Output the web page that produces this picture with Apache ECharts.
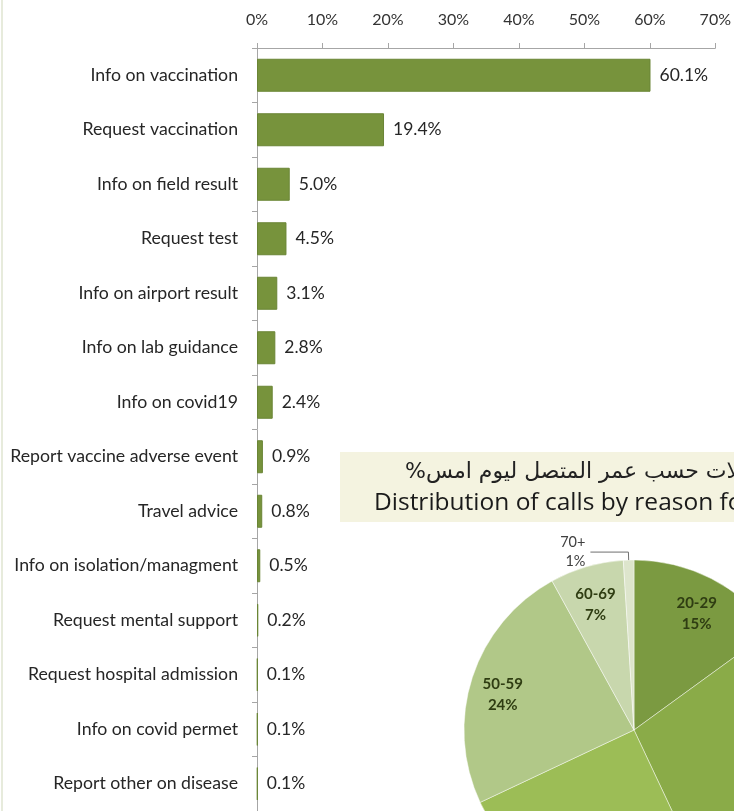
<!DOCTYPE html>
<html>
<head>
<meta charset="utf-8">
<script src="https://cdn.jsdelivr.net/npm/echarts@6/dist/echarts.min.js"></script>
<style>
    html, body {margin: 0; padding: 0; background: #ffffff;}
    #main {width: 734px; height: 811px;}
</style>
</head>
<body>
<div id="main"></div>
<script>
// calls by reason (bar chart)
var reasons = ['Info on vaccination', 'Request vaccination', 'Info on field result', 'Request test',
    'Info on airport result', 'Info on lab guidance', 'Info on covid19', 'Report vaccine adverse event',
    'Travel advice', 'Info on isolation/managment', 'Request mental support', 'Request hospital admission',
    'Info on covid permet', 'Report other on disease'];
var reasonPct = [60.1, 19.4, 5.0, 4.5, 3.1, 2.8, 2.4, 0.9, 0.8, 0.5, 0.2, 0.1, 0.1, 0.1];

// calls by caller age (pie, partly cut off)
var ageGroups = ['20-29', '30-39', '40-49', '50-59', '60-69', '70+'];
var agePct = [15, 28, 25, 24, 7, 1];
var ageColors = ['#7b9a41', '#8aab48', '#9cbd56', '#b1c888', '#c8d7ad', '#dde5cc'];

var titleAr = '%توزيع الاتصالات حسب عمر المتصل ليوم امس';
var titleEn = 'Distribution of calls by reason for call';

var chart = echarts.init(document.getElementById('main'));

var pieData = [];
var labelData = [];
for (var i = 0; i < ageGroups.length; i++) {
    pieData.push({name: ageGroups[i], value: agePct[i], itemStyle: {color: ageColors[i]}});
    var item = {name: ageGroups[i], value: agePct[i]};
    if (ageGroups[i] === '70+') {
        item.label = {position: 'outside', color: '#404040', fontWeight: 'normal', fontSize: 14.5, lineHeight: 19};
        item.labelLine = {show: true, length: 8, length2: 38, lineStyle: {color: '#6f6f6f', width: 1}};
    }
    labelData.push(item);
}

var font = 'Lato';

chart.setOption({
    backgroundColor: '#ffffff',
    animation: false,
    graphic: [{
        type: 'rect',
        z: 0,
        shape: {x: 1, y: 0, width: 2, height: 811},
        style: {fill: '#e7ebdc'}
    }, {
        type: 'rect',
        z: 0,
        shape: {x: 340, y: 452, width: 420, height: 70},
        style: {fill: '#f4f3e0'}
    }, {
        type: 'text',
        z: 5,
        left: 405, top: 461,
        style: {text: titleAr, font: '22px "DejaVu Sans"', fill: '#222'}
    }, {
        type: 'text',
        z: 5,
        left: 374, top: 491,
        style: {text: titleEn, font: '24.5px "Open Sans"', fill: '#1a1a1a'}
    }],
    grid: {left: 257, top: 48, width: 461, height: 776, containLabel: false},
    xAxis: {
        type: 'value',
        position: 'top',
        min: 0, max: 70, interval: 10,
        axisLine: {show: true, lineStyle: {color: '#a6a6a6'}},
        axisTick: {show: true, length: 5, lineStyle: {color: '#a6a6a6'}},
        splitLine: {show: false},
        axisLabel: {formatter: '{value}%', color: '#333', fontSize: 16, fontFamily: font, margin: 20}
    },
    yAxis: {
        type: 'category',
        inverse: true,
        data: reasons,
        axisLine: {show: true, lineStyle: {color: '#a6a6a6'}},
        axisTick: {show: true, length: 5, lineStyle: {color: '#a6a6a6'}},
        axisLabel: {color: '#262626', fontSize: 17.7, fontFamily: font, margin: 19}
    },
    series: [{
        type: 'bar',
        data: reasonPct,
        barWidth: 33,
        itemStyle: {color: '#77933c', borderColor: '#6a8535', borderWidth: 1},
        label: {
            show: true, position: 'right', distance: 9,
            color: '#262626', fontSize: 17.5, fontFamily: font,
            formatter: function (p) { return p.value.toFixed(1) + '%'; }
        }
    }, {
        type: 'pie',
        center: [634, 730],
        radius: [0, 170],
        startAngle: 90,
        z: 3,
        data: pieData,
        itemStyle: {borderColor: 'rgba(255,255,255,0.45)', borderWidth: 1},
        label: {show: false},
        labelLine: {show: false},
        silent: true
    }, {
        // transparent ring only used to place the slice labels
        type: 'pie',
        center: [634, 730],
        radius: [100, 170],
        startAngle: 90,
        z: 4,
        data: labelData,
        itemStyle: {color: 'rgba(0,0,0,0)'},
        label: {
            show: true, position: 'inside',
            formatter: '{b}\n{c}%',
            color: '#2f3d12', fontSize: 15, fontWeight: 'bold', fontFamily: font, lineHeight: 21
        },
        labelLine: {show: false},
        labelLayout: function (p) {
            return p.dataIndex === 5 ? {} : {dy: 7};
        },
        silent: true
    }]
});
</script>
</body>
</html>
